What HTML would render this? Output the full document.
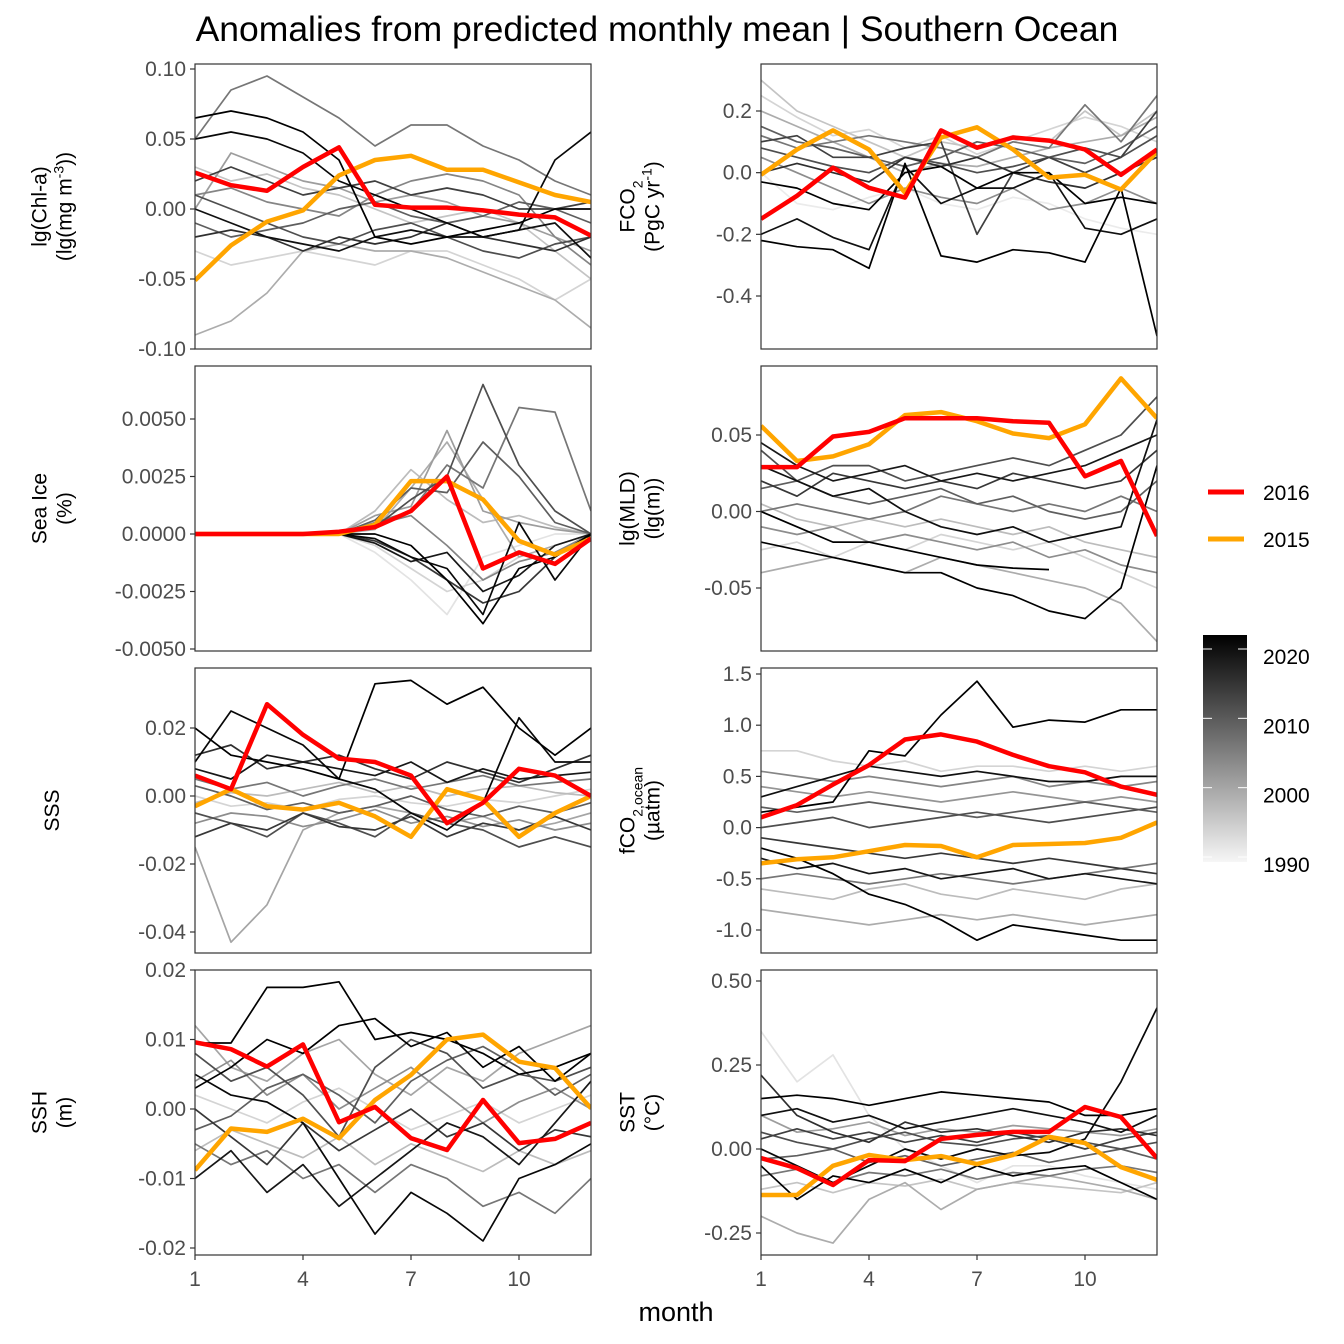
<!DOCTYPE html>
<html><head><meta charset="utf-8">
<style>
html,body{margin:0;padding:0;background:#fff;}
svg{display:block;font-family:"Liberation Sans",Arial,sans-serif;}
</style></head>
<body>
<svg id="chart" width="1344" height="1344" viewBox="0 0 1344 1344">
<rect width="1344" height="1344" fill="#fff"/>
<text x="657" y="41" font-size="35.5" text-anchor="middle" fill="#000">Anomalies from predicted monthly mean | Southern Ocean</text>
<text x="676" y="1321" font-size="27" text-anchor="middle" fill="#000">month</text>
<g id="panels"></g>
<g>
<line x1="1208" y1="492" x2="1244" y2="492" stroke="#ff0000" stroke-width="5"/>
<text x="1263" y="500" font-size="21" fill="#000">2016</text>
<line x1="1208" y1="539" x2="1244" y2="539" stroke="#ffa500" stroke-width="5"/>
<text x="1263" y="547" font-size="21" fill="#000">2015</text>
<defs><linearGradient id="cb" x1="0" y1="1" x2="0" y2="0">
<stop offset="0" stop-color="#f6f6f6"/><stop offset="1" stop-color="#000"/></linearGradient></defs>
<rect x="1203" y="635" width="44" height="227" fill="url(#cb)"/>
<g id="cbticks"></g>
</g>
</svg>
<script>
// ---------- data ----------
const months = [1,2,3,4,5,6,7,8,9,10,11,12];
const xTicks = [1,4,7,10];
const cbYears = [2020,2010,2000,1990];

const chlRed = [0.026,0.017,0.013,0.030,0.044,0.003,0.001,0.001,-0.001,-0.004,-0.006,-0.019];
const chlOrange = [-0.051,-0.026,-0.009,-0.001,0.024,0.035,0.038,0.028,0.028,0.019,0.010,0.005];
const chlYears = [2019,2021,2005,2018,1998,2010,1993,2012,2000,2003,2008,1995,2014];
const chlGray = [
[0.05,0.055,0.05,0.04,0.02,0.01,0.0,-0.01,-0.02,-0.015,0.035,0.055],
[0.065,0.07,0.065,0.055,0.035,-0.02,-0.025,-0.02,-0.015,-0.01,0.0,0.0],
[0.05,0.085,0.095,0.08,0.065,0.045,0.06,0.06,0.045,0.035,0.02,0.01],
[0.0,-0.01,-0.02,-0.025,-0.03,-0.02,-0.015,-0.02,-0.02,-0.015,-0.01,-0.035],
[-0.09,-0.08,-0.06,-0.03,-0.025,-0.03,-0.03,-0.035,-0.045,-0.055,-0.065,-0.085],
[0.01,0.0,-0.01,-0.02,-0.025,-0.015,-0.01,-0.02,-0.03,-0.035,-0.025,-0.02],
[-0.03,-0.04,-0.035,-0.03,-0.035,-0.04,-0.03,-0.03,-0.04,-0.05,-0.065,-0.05],
[0.02,0.03,0.02,0.01,0.015,0.02,0.01,0.015,0.01,0.0,0.0,0.005],
[0.0,0.04,0.03,0.02,0.015,0.005,0.01,0.005,-0.005,-0.01,-0.02,-0.03],
[0.01,0.015,0.005,0.0,-0.005,0.01,0.02,0.025,0.02,0.01,-0.02,-0.04],
[-0.01,-0.02,-0.015,-0.01,0.0,0.005,-0.005,-0.01,-0.005,0.005,0.0,-0.01],
[0.03,0.02,0.025,0.015,0.01,0.0,-0.01,-0.005,0.0,-0.01,-0.03,-0.05],
[-0.02,-0.015,-0.02,-0.03,-0.02,-0.025,-0.02,-0.01,-0.02,-0.025,-0.03,-0.02]];
const chlTicks = [0.10,0.05,0.00,-0.05,-0.10];
const chlTickLabels = ["0.10","0.05","0.00","-0.05","-0.10"];

const fcoRed = [-0.15,-0.075,0.016,-0.049,-0.081,0.137,0.081,0.114,0.104,0.075,-0.007,0.075];
const fcoOrange = [-0.007,0.075,0.137,0.075,-0.065,0.114,0.147,0.075,-0.016,-0.007,-0.055,0.068];
const fcoYears = [2020,2021,2018,2008,1995,2002,1990,2012,2005,1998,2010,2014,1993];
const fcoGray = [
[-0.22,-0.24,-0.25,-0.31,0.03,-0.27,-0.29,-0.25,-0.26,-0.29,-0.05,-0.53],
[-0.03,-0.05,-0.1,-0.12,0.0,0.02,-0.05,0.0,0.0,-0.1,-0.08,-0.1],
[-0.2,-0.15,-0.21,-0.25,0.02,-0.1,-0.05,-0.05,0.0,-0.18,-0.2,-0.15],
[0.15,0.1,0.08,0.05,0.02,0.05,0.1,0.08,0.05,0.03,0.08,0.15],
[0.3,0.2,0.15,0.1,0.05,0.1,0.08,0.12,0.1,0.2,0.12,0.2],
[0.05,0.0,-0.05,-0.1,-0.05,-0.08,-0.1,-0.05,-0.12,-0.1,-0.05,-0.1],
[0.0,-0.1,-0.12,-0.08,-0.05,-0.1,-0.12,-0.08,-0.1,-0.15,-0.18,-0.2],
[0.1,0.12,0.05,0.05,0.08,0.1,-0.2,0.0,0.05,0.0,0.05,0.2],
[0.12,0.08,0.1,0.12,0.1,0.08,0.05,0.1,0.08,0.22,0.1,0.25],
[0.2,0.15,0.1,0.05,0.0,0.03,0.02,0.05,0.08,0.1,0.12,0.18],
[0.08,0.05,0.02,0.0,0.05,0.03,0.0,0.02,0.05,0.08,0.05,0.12],
[0.0,0.03,0.0,-0.03,0.05,0.02,0.05,0.0,-0.03,-0.05,0.0,0.05],
[0.25,0.18,0.12,0.14,0.08,0.12,0.06,0.1,0.14,0.18,0.15,0.1]];
const fcoTicks = [0.2,0.0,-0.2,-0.4];
const fcoTickLabels = ["0.2","0.0","-0.2","-0.4"];

const iceRed = [0,0,0,0,0.0001,0.0003,0.001,0.0025,-0.0015,-0.0008,-0.0013,-0.0002];
const iceOrange = [0,0,0,0,0,0.0004,0.0023,0.0023,0.0015,-0.0003,-0.0009,-0.0002];
const iceYears = [2020,2019,2010,2005,1998,1993,2013,2000,1991,2008,2003,1996,2017];
const iceGray = [
[0,0,0,0,0,0,-0.0005,-0.002,-0.0039,-0.0015,-0.001,0],
[0,0,0,0,0,-0.0002,-0.001,-0.0015,-0.0035,0.0005,-0.002,0],
[0,0,0,0,0,0.0003,0.0015,0.0025,0.0065,0.003,0.001,0],
[0,0,0,0,0,0.0005,0.001,0.003,0.002,0.0055,0.0053,0.001],
[0,0,0,0,0,0.0002,0.002,0.004,0.0015,-0.001,-0.0005,0],
[0,0,0,0,0,-0.0005,-0.0015,-0.0025,-0.002,-0.001,-0.0005,0],
[0,0,0,0,0,-0.0003,-0.001,-0.002,-0.003,-0.0025,-0.001,0],
[0,0,0,0,0,0.0008,0.0012,0.0045,0.001,0.0005,0.0002,0],
[0,0,0,0,0,-0.0008,-0.002,-0.0035,-0.001,-0.0005,0,0],
[0,0,0,0,0,0.0006,0.002,0.0018,0.004,0.0025,0.0005,0],
[0,0,0,0,0,0.0004,0.0008,-0.0005,-0.002,-0.0012,-0.0008,0],
[0,0,0,0,0,0.001,0.0028,0.0015,0.0005,0.0008,0.0003,0],
[0,0,0,0,0,-0.0004,-0.0012,-0.0008,-0.0025,-0.0018,-0.0005,0]];
const iceTicks = [0.005,0.0025,0,-0.0025,-0.005];
const iceTickLabels = ["0.0050","0.0025","0.0000","-0.0025","-0.0050"];

const mldRed = [0.029,0.029,0.049,0.052,0.061,0.061,0.061,0.059,0.058,0.023,0.033,-0.016];
const mldOrange = [0.056,0.033,0.036,0.044,0.063,0.065,0.059,0.051,0.048,0.057,0.087,0.061];
const mldYears = [2020,2021,2018,2010,1998,2005,1993,2013,2002,2008,1996,2017];
const mldGray = [
[-0.02,-0.025,-0.03,-0.035,-0.04,-0.04,-0.05,-0.055,-0.065,-0.07,-0.05,0.03],
[0.0,-0.01,-0.02,-0.02,-0.025,-0.03,-0.035,-0.037,-0.038,null,null,null],
[0.03,0.02,0.01,0.015,0.0,-0.01,-0.015,-0.01,-0.02,-0.015,-0.01,0.06],
[0.04,0.02,0.03,0.03,0.02,0.025,0.03,0.035,0.03,0.04,0.05,0.075],
[-0.04,-0.035,-0.03,-0.035,-0.04,-0.03,-0.035,-0.04,-0.045,-0.05,-0.06,-0.085],
[0.0,0.005,0.0,-0.005,0.0,0.01,0.005,0.0,0.005,0.0,0.01,0.0],
[-0.025,-0.02,-0.03,-0.02,-0.025,-0.015,-0.02,-0.025,-0.02,-0.03,-0.04,-0.05],
[0.02,0.01,0.025,0.02,0.015,0.02,0.015,0.025,0.02,0.015,0.02,0.04],
[-0.01,-0.015,-0.01,-0.02,-0.015,-0.02,-0.025,-0.02,-0.03,-0.025,-0.035,-0.04],
[0.015,0.02,0.01,0.005,0.01,0.015,0.005,0.01,0.0,-0.005,0.0,0.02],
[0.005,-0.005,-0.01,-0.005,-0.01,-0.005,-0.01,-0.015,-0.01,-0.02,-0.025,-0.03],
[0.045,0.03,0.02,0.025,0.03,0.02,0.025,0.02,0.025,0.03,0.04,0.05]];
const mldTicks = [0.05,0.00,-0.05];
const mldTickLabels = ["0.05","0.00","-0.05"];

const sssRed = [0.006,0.002,0.027,0.018,0.011,0.010,0.006,-0.008,-0.002,0.008,0.006,0];
const sssOrange = [-0.003,0.002,-0.003,-0.004,-0.002,-0.006,-0.012,0.002,-0.001,-0.012,-0.005,0];
const sssYears = [2020,2019,1999,2010,2005,1993,2013,2017,2002,2008,2014,1996];
const sssGray = [
[0.02,0.012,0.01,0.008,0.005,0.033,0.034,0.027,0.032,0.02,0.012,0.02],
[0.01,0.025,0.02,0.015,0.005,0.002,-0.005,-0.01,-0.002,0.023,0.01,0.01],
[-0.015,-0.043,-0.032,-0.01,-0.005,-0.003,-0.005,-0.008,-0.006,-0.01,-0.008,-0.005],
[-0.005,-0.008,-0.012,-0.005,-0.008,-0.012,-0.005,-0.008,-0.01,-0.015,-0.012,-0.015],
[0.005,0.002,0.004,0.0,0.003,0.005,0.002,0.004,0.006,0.003,0.004,0.005],
[0.0,-0.003,-0.002,-0.004,-0.001,0.0,-0.002,-0.003,-0.001,-0.002,0.0,0.002],
[-0.012,-0.008,-0.01,-0.005,-0.009,-0.01,-0.006,-0.012,-0.008,-0.01,-0.006,-0.01],
[0.008,0.005,0.012,0.01,0.008,0.006,0.01,0.004,0.008,0.005,0.006,0.007],
[-0.008,-0.005,-0.006,-0.009,-0.007,-0.004,-0.008,-0.006,-0.009,-0.007,-0.01,-0.008],
[0.003,0.0,-0.004,-0.002,-0.005,-0.003,0.0,-0.004,-0.006,-0.003,-0.005,-0.002],
[0.012,0.015,0.008,0.01,0.012,0.008,0.005,0.01,0.007,0.004,0.008,0.012],
[-0.002,0.001,0.0,0.002,0.004,0.001,0.003,0.0,0.002,0.003,0.001,0.0]];
const sssTicks = [0.02,0.00,-0.02,-0.04];
const sssTickLabels = ["0.02","0.00","-0.02","-0.04"];

const fcoOceanRed = [0.1,0.22,0.42,0.61,0.86,0.91,0.84,0.71,0.6,0.54,0.4,0.32];
const fcoOceanOrange = [-0.35,-0.31,-0.29,-0.23,-0.17,-0.18,-0.29,-0.17,-0.16,-0.15,-0.1,0.05];
const fcoOceanYears = [2020,2021,2018,2010,2005,1998,1993,2013,2001,2008,1996,2017,2003];
const fcoOceanGray = [
[0.15,0.2,0.25,0.75,0.7,1.1,1.43,0.98,1.05,1.03,1.15,1.15],
[-0.2,-0.3,-0.45,-0.65,-0.75,-0.9,-1.1,-0.95,-1.0,-1.05,-1.1,-1.1],
[0.3,0.4,0.5,0.6,0.55,0.5,0.55,0.5,0.45,0.45,0.5,0.5],
[0.0,0.05,0.1,0.0,0.05,0.1,0.15,0.1,0.05,0.1,0.15,0.2],
[-0.5,-0.45,-0.5,-0.55,-0.5,-0.45,-0.5,-0.55,-0.5,-0.45,-0.4,-0.35],
[-0.8,-0.85,-0.9,-0.95,-0.9,-0.85,-0.9,-0.85,-0.9,-0.95,-0.9,-0.85],
[0.75,0.75,0.65,0.6,0.65,0.55,0.6,0.6,0.55,0.6,0.55,0.6],
[-0.1,-0.15,-0.2,-0.25,-0.3,-0.25,-0.3,-0.35,-0.3,-0.35,-0.4,-0.45],
[0.4,0.35,0.3,0.35,0.3,0.25,0.3,0.35,0.3,0.25,0.3,0.25],
[0.2,0.15,0.2,0.25,0.2,0.15,0.1,0.15,0.2,0.25,0.2,0.15],
[-0.6,-0.65,-0.7,-0.6,-0.55,-0.65,-0.7,-0.6,-0.65,-0.7,-0.6,-0.55],
[-0.3,-0.4,-0.35,-0.45,-0.4,-0.5,-0.45,-0.4,-0.5,-0.45,-0.5,-0.55],
[0.55,0.5,0.45,0.5,0.45,0.4,0.45,0.5,0.4,0.45,0.4,0.45]];
const fcoOceanTicks = [1.5,1.0,0.5,0.0,-0.5,-1.0];
const fcoOceanTickLabels = ["1.5","1.0","0.5","0.0","-0.5","-1.0"];

const sshRed = [0.0096,0.0086,0.0061,0.0093,-0.0019,0.0003,-0.0042,-0.0059,0.0013,-0.0049,-0.0043,-0.002];
const sshOrange = [-0.0088,-0.0028,-0.0033,-0.0014,-0.0042,0.0013,0.0049,0.01,0.0107,0.0068,0.0059,0.0001];
const sshYears = [2020,2019,2010,2005,1993,2013,1999,2017,2002,2008,1996,2021];
const sshGray = [
[0.0095,0.0095,0.0175,0.0175,0.0183,0.01,0.011,0.01,0.008,0.005,0.006,0.008],
[0.005,0.002,0.001,-0.002,-0.01,-0.018,-0.012,-0.015,-0.019,-0.01,-0.008,-0.005],
[0.008,0.004,0.006,0.002,-0.004,0.006,0.01,0.008,0.003,0.005,0.004,0.006],
[-0.005,-0.008,-0.006,-0.01,-0.008,-0.012,-0.008,-0.01,-0.014,-0.012,-0.015,-0.01],
[0.002,0.0,-0.002,0.001,0.003,0.0,-0.003,-0.001,0.001,-0.002,0.0,0.002],
[0.0,-0.004,-0.008,-0.002,-0.006,-0.003,0.0,-0.004,-0.002,-0.006,-0.003,-0.004],
[0.012,0.006,0.004,0.008,0.01,0.005,0.002,0.006,0.004,0.008,0.01,0.012],
[-0.01,-0.006,-0.012,-0.008,-0.014,-0.01,-0.006,-0.002,-0.004,-0.008,-0.002,0.004],
[0.004,0.007,0.002,0.005,0.0,0.003,0.006,0.002,-0.002,0.001,0.003,0.0],
[-0.003,-0.001,0.003,0.005,0.002,-0.002,0.004,0.007,0.009,0.006,0.002,0.005],
[-0.006,-0.003,-0.005,-0.007,-0.004,-0.008,-0.005,-0.007,-0.009,-0.006,-0.008,-0.006],
[0.003,0.006,0.01,0.008,0.012,0.013,0.009,0.011,0.006,0.009,0.004,0.008]];
const sshTicks = [0.02,0.01,0.00,-0.01,-0.02];
const sshTickLabels = ["0.02","0.01","0.00","-0.01","-0.02"];

const sstRed = [-0.027,-0.057,-0.107,-0.033,-0.036,0.03,0.042,0.051,0.051,0.125,0.095,-0.027];
const sstOrange = [-0.137,-0.137,-0.05,-0.018,-0.033,-0.021,-0.045,-0.018,0.036,0.018,-0.054,-0.092];
const sstYears = [2021,2019,1991,1998,2010,2005,2014,2000,2018,2008,1995,2012,2020];
const sstGray = [
[0.15,0.16,0.15,0.13,0.15,0.17,0.16,0.15,0.14,0.1,0.1,0.12],
[0.0,-0.05,-0.1,-0.05,0.0,-0.03,0.0,-0.02,-0.01,0.03,0.2,0.42],
[0.35,0.2,0.28,0.1,0.0,-0.05,-0.1,-0.05,-0.05,-0.08,-0.1,-0.12],
[-0.2,-0.25,-0.28,-0.15,-0.1,-0.18,-0.12,-0.1,-0.08,-0.1,-0.12,-0.15],
[0.05,0.02,0.0,0.03,0.05,0.02,0.01,0.03,0.04,0.02,0.0,0.02],
[-0.08,-0.06,-0.1,-0.07,-0.08,-0.06,-0.09,-0.07,-0.08,-0.06,-0.05,-0.07],
[0.22,0.1,0.05,0.02,0.08,0.05,0.06,0.04,0.02,0.05,0.06,0.04],
[0.1,0.05,0.06,0.08,0.04,0.06,0.05,0.07,0.06,0.05,0.04,0.06],
[0.1,0.12,0.08,0.1,0.06,0.08,0.1,0.12,0.1,0.08,0.05,0.1],
[-0.03,-0.02,0.0,-0.04,-0.02,-0.05,-0.03,-0.01,-0.04,-0.02,0.0,-0.03],
[-0.12,-0.1,-0.13,-0.1,-0.11,-0.09,-0.12,-0.1,-0.11,-0.12,-0.13,-0.1],
[0.03,0.06,0.03,0.05,0.02,0.04,0.02,0.05,0.03,0.0,0.03,0.05],
[-0.05,-0.15,-0.08,-0.1,-0.06,-0.1,-0.05,-0.08,-0.06,-0.05,-0.1,-0.15]];
const sstTicks = [0.50,0.25,0.00,-0.25];
const sstTickLabels = ["0.50","0.25","0.00","-0.25"];

// ---------- layout ----------
const NS = "http://www.w3.org/2000/svg";
const root = document.getElementById('panels');
function mk(tag, attrs, parent){
  const e = document.createElementNS(NS, tag);
  for (const k in attrs) e.setAttribute(k, attrs[k]);
  (parent||root).appendChild(e);
  return e;
}
const cols = [{x0:195,x1:591,tx:52},{x0:761,x1:1157,tx:640}];
const rows = [{y0:64,y1:349},{y0:366,y1:651},{y0:668,y1:953},{y0:970,y1:1255}];

const panels = [
 {id:'chl',c:0,r:0,red:chlRed,orange:chlOrange,years:chlYears,gray:chlGray,ticks:chlTicks,labels:chlTickLabels,v1:0.10,p1:69,v2:-0.10,p2:349,
  title:['lg(Chl-a)','(lg(mg m<tspan baseline-shift="super" font-size="14">-3</tspan>))']},
 {id:'fco2',c:1,r:0,red:fcoRed,orange:fcoOrange,years:fcoYears,gray:fcoGray,ticks:fcoTicks,labels:fcoTickLabels,v1:0.2,p1:111,v2:-0.4,p2:296,
  title:['FCO<tspan baseline-shift="sub" font-size="14">2</tspan>','(PgC yr<tspan baseline-shift="super" font-size="14">-1</tspan>)']},
 {id:'sea-ice',c:0,r:1,red:iceRed,orange:iceOrange,years:iceYears,gray:iceGray,ticks:iceTicks,labels:iceTickLabels,v1:0.005,p1:419,v2:-0.005,p2:649,
  title:['Sea Ice','(%)']},
 {id:'mld',c:1,r:1,red:mldRed,orange:mldOrange,years:mldYears,gray:mldGray,ticks:mldTicks,labels:mldTickLabels,v1:0.05,p1:435,v2:-0.05,p2:588,
  title:['lg(MLD)','(lg(m))']},
 {id:'sss',c:0,r:2,red:sssRed,orange:sssOrange,years:sssYears,gray:sssGray,ticks:sssTicks,labels:sssTickLabels,v1:0.02,p1:728,v2:-0.04,p2:932,
  title:['SSS']},
 {id:'fco2-ocean',c:1,r:2,red:fcoOceanRed,orange:fcoOceanOrange,years:fcoOceanYears,gray:fcoOceanGray,ticks:fcoOceanTicks,labels:fcoOceanTickLabels,v1:1.5,p1:674,v2:-1.0,p2:930,
  title:['fCO<tspan baseline-shift="sub" font-size="14">2,ocean</tspan>','(µatm)']},
 {id:'ssh',c:0,r:3,red:sshRed,orange:sshOrange,years:sshYears,gray:sshGray,ticks:sshTicks,labels:sshTickLabels,v1:0.02,p1:970,v2:-0.02,p2:1248,
  title:['SSH','(m)']},
 {id:'sst',c:1,r:3,red:sstRed,orange:sstOrange,years:sstYears,gray:sstGray,ticks:sstTicks,labels:sstTickLabels,v1:0.50,p1:981,v2:-0.25,p2:1233,
  title:['SST','(°C)']}
];

function yearColor(y){
  const t = Math.max(0, Math.min(1, (y-1990)/30));
  const g = Math.round(235*(1-t));
  return `rgb(${g},${g},${g})`;
}

panels.forEach(p=>{
  const col = cols[p.c], row = rows[p.r];
  const xS = m => col.x0 + (m-1)*(col.x1-col.x0)/11;
  const yS = v => p.p1 + (v-p.v1)*(p.p2-p.p1)/(p.v2-p.v1);
  const g = mk('g', {});
  
  
  const clipId = 'clip-'+p.id;
  const cp = mk('clipPath', {id:clipId}, g);
  mk('rect', {x:col.x0, y:row.y0, width:col.x1-col.x0, height:row.y1-row.y0}, cp);
  const lines = mk('g', {'clip-path':`url(#${clipId})`}, g);
  function path(vals){
    let d='', pen=false;
    vals.forEach((v,i)=>{
      if (v===null||v===undefined){pen=false;return;}
      d += (pen?'L':'M') + xS(months[i]).toFixed(1) + ',' + yS(v).toFixed(1);
      pen=true;
    });
    return d;
  }
  const order = p.years.map((y,i)=>i).sort((a,b)=>p.years[a]-p.years[b]);
  order.forEach(i=>{
    const e = mk('path', {d:path(p.gray[i]), fill:'none', stroke:yearColor(p.years[i]), 'stroke-width':1.7, 'stroke-linejoin':'round'}, lines);
    
    
  });
  const eo = mk('path', {d:path(p.orange), fill:'none', stroke:'#ffa500', 'stroke-width':4.5, 'stroke-linejoin':'round'}, lines);
  
  
  const er = mk('path', {d:path(p.red), fill:'none', stroke:'#ff0000', 'stroke-width':4.5, 'stroke-linejoin':'round'}, lines);
  
  
  const b = mk('rect', {x:col.x0, y:row.y0, width:col.x1-col.x0, height:row.y1-row.y0, fill:'none', stroke:'#333', 'stroke-width':1.2}, g);
  
  
  p.ticks.forEach((t,i)=>{
    const y = yS(t);
    mk('line', {x1:col.x0-5, x2:col.x0, y1:y, y2:y, stroke:'#333', 'stroke-width':1.2}, g);
    const tx = mk('text', {x:col.x0-9, y:y+7, 'font-size':21, 'text-anchor':'end', fill:'#4d4d4d'}, g);
    tx.textContent = p.labels[i];
    
    
  });
  if (p.r===3){
    xTicks.forEach(m=>{
      const x = xS(m);
      mk('line', {x1:x, x2:x, y1:row.y1, y2:row.y1+5, stroke:'#333', 'stroke-width':1.2}, g);
      const tx = mk('text', {x:x, y:row.y1+31, 'font-size':21, 'text-anchor':'middle', fill:'#4d4d4d'}, g);
      tx.textContent = m;
      
      
    });
  }
  const cy = (row.y0+row.y1)/2;
  const n = p.title.length;
  p.title.forEach((t,i)=>{
    const x = col.tx + (i - (n-1)/2)*25 + 7;
    const tt = mk('text', {x:0, y:0, 'font-size':21, 'text-anchor':'middle', fill:'#000',
      transform:`translate(${x},${cy}) rotate(-90)`}, g);
    tt.innerHTML = t;
    
    
  });
});

const cbg = document.getElementById('cbticks');
const cbY = yr => 865 + (yr-1990)*(657-865)/30;
cbYears.forEach(yr=>{
  const y = cbY(yr) - 8;
  mk('line', {x1:1203, x2:1212, y1:y, y2:y, stroke:'#fff', 'stroke-width':1}, cbg);
  mk('line', {x1:1238, x2:1247, y1:y, y2:y, stroke:'#fff', 'stroke-width':1}, cbg);
  const t = mk('text', {x:1263, y:cbY(yr)+7, 'font-size':21, fill:'#000'}, cbg);
  t.textContent = yr;
  
  
});
</script>
</body></html>
